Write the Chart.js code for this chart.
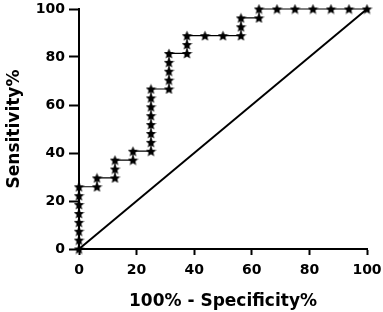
<!DOCTYPE html>
<html>
<head>
<meta charset="utf-8">
<script src="https://cdn.jsdelivr.net/npm/chart.js@4.4.1/dist/chart.umd.min.js"></script>
<style>
  html, body { margin: 0; padding: 0; background: #fff; }
  #wrap { width: 383px; height: 312px; }
</style>
</head>
<body>
<div id="wrap"><canvas id="chartRoc" width="383" height="312"></canvas></div>
<script>
// ROC curve values (percent)
const especificidad100 = [0, 0, 0, 0, 0, 0, 0, 0, 6.25, 6.25, 12.5, 12.5, 12.5, 18.75, 18.75,
    25, 25, 25, 25, 25, 25, 25, 25, 31.25, 31.25, 31.25, 31.25, 31.25, 37.5, 37.5, 37.5,
    43.75, 50, 56.25, 56.25, 56.25, 62.5, 62.5, 68.75, 75, 81.25, 87.5, 93.75, 100];
const sensibilidad = [0, 3.7, 7.41, 11.11, 14.81, 18.52, 22.22, 25.93, 25.93, 29.63, 29.63, 33.33, 37.04, 37.04, 40.74,
    40.74, 44.44, 48.15, 51.85, 55.56, 59.26, 62.96, 66.67, 66.67, 70.37, 74.07, 77.78, 81.48, 81.48, 85.19, 88.89,
    88.89, 88.89, 88.89, 92.59, 96.3, 96.3, 100, 100, 100, 100, 100, 100, 100];
const lineaRefX = [0, 100];
const lineaRefY = [0, 100];
const ticksEje = [0, 20, 40, 60, 80, 100];

// estrella rellena para los puntos
function crearEstrella(tam) {
    const c = document.createElement('canvas');
    c.width = tam; c.height = tam;
    const g = c.getContext('2d');
    const cx = tam / 2, cy = tam / 2 + 0.5, rExt = tam / 2, rInt = rExt * 0.46;
    g.beginPath();
    for (let i = 0; i < 10; i++) {
        const r = i % 2 === 0 ? rExt : rInt;
        const a = -Math.PI / 2 + i * Math.PI / 5;
        const px = cx + r * Math.cos(a), py = cy + r * Math.sin(a);
        if (i === 0) g.moveTo(px, py); else g.lineTo(px, py);
    }
    g.closePath();
    g.fillStyle = '#000';
    g.fill();
    return c;
}
const estrella = crearEstrella(11);

const fuente = 'DejaVu Sans';
const ejeComun = {
    type: 'linear',
    min: 0,
    max: 100,
    border: { display: true, color: '#000', width: 2 },
};

new Chart(document.getElementById('chartRoc').getContext('2d'), {
    type: 'scatter',
    data: {
        datasets: [
            {
                label: 'ROC',
                data: especificidad100.map((x, i) => ({ x: x, y: sensibilidad[i] })),
                showLine: true,
                borderColor: '#000',
                borderWidth: 1.2,
                pointStyle: estrella,
                pointRadius: 5,
                clip: false
            },
            {
                label: 'Referencia',
                data: lineaRefX.map((x, i) => ({ x: x, y: lineaRefY[i] })),
                showLine: true,
                borderColor: '#000',
                borderWidth: 2,
                pointRadius: 0,
                clip: false
            }
        ]
    },
    options: {
        responsive: false,
        animation: false,
        layout: { autoPadding: false, padding: { top: 9, right: 16, left: 0, bottom: 0 } },
        plugins: { legend: { display: false }, tooltip: { enabled: false } },
        scales: {
            x: {
                ...ejeComun,
                grid: { display: true, drawOnChartArea: false, drawTicks: true, tickLength: 6, tickWidth: 2, tickColor: '#000' },
                afterBuildTicks: s => { s.ticks = ticksEje.map(v => ({ value: v })); },
                afterFit: s => { s.height = 63; s.paddingLeft = 0; s.paddingRight = 0; },
                ticks: { color: '#000', padding: 7, maxRotation: 0, font: { family: fuente, size: 14, weight: 'bold' } },
                title: { display: true, text: '100% - Specificity%', color: '#000', padding: { top: 3, bottom: 0 },
                    font: { family: fuente, size: 17, weight: 'bold' } }
            },
            y: {
                ...ejeComun,
                grid: { display: true, drawOnChartArea: false, drawTicks: true, tickLength: 10, tickWidth: 2, tickColor: '#000' },
                afterBuildTicks: s => { s.ticks = ticksEje.map(v => ({ value: v })); },
                afterFit: s => { s.width = 79; s.paddingTop = 0; s.paddingBottom = 0; },
                ticks: { color: '#000', padding: 4, font: { family: fuente, size: 14, weight: 'bold' } },
                title: { display: true, text: 'Sensitivity%', color: '#000', padding: { top: 4, bottom: 0 },
                    font: { family: fuente, size: 17, weight: 'bold' } }
            }
        }
    }
});
</script>
</body>
</html>
